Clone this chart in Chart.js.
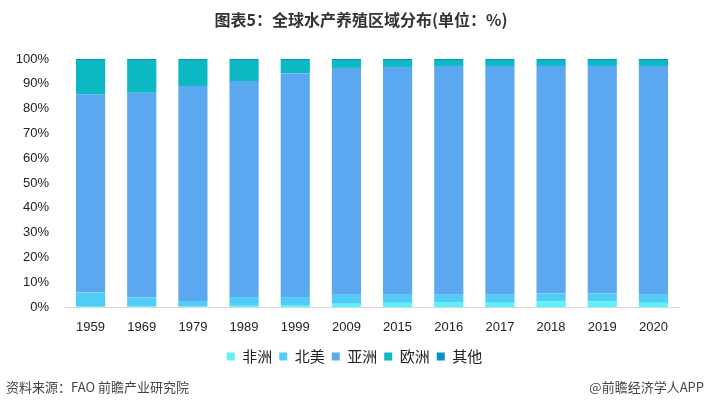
<!DOCTYPE html>
<html>
<head>
<meta charset="utf-8">
<script src="https://cdn.jsdelivr.net/npm/chart.js@4"></script>
<style>
  html, body { margin: 0; padding: 0; background: #fff; }
  #wrap { position: relative; width: 704px; height: 411px; }
</style>
</head>
<body>
<div id="wrap"><canvas id="chart" width="704" height="411"></canvas></div>
<script>
  // years on the x axis
  const years = ["1959", "1969", "1979", "1989", "1999", "2009", "2015", "2016", "2017", "2018", "2019", "2020"];

  // share of global aquaculture by region, %
  const africa = [0.4, 0.3, 0.2, 0.5, 0.8, 1.3, 1.7, 2.0, 1.7, 2.2, 2.2, 1.7];
  const northAmerica = [5.4, 3.5, 2.2, 3.5, 3.2, 3.6, 3.2, 2.9, 3.2, 3.2, 3.2, 3.2];
  const asia = [80.0, 82.6, 86.7, 87.1, 90.3, 91.5, 91.9, 92.3, 92.3, 91.8, 91.8, 92.3];
  const europe = [13.8, 13.2, 10.5, 8.5, 5.3, 3.2, 2.8, 2.4, 2.4, 2.4, 2.4, 2.4];
  const other = [0.4, 0.4, 0.4, 0.4, 0.4, 0.4, 0.4, 0.4, 0.4, 0.4, 0.4, 0.4];

  const seriesNames = ["非洲", "北美", "亚洲", "欧洲", "其他"];
  const seriesColors = ["#5DF1F8", "#4FCCF8", "#5BA8F0", "#0CB8C2", "#0592C8"];
  const seriesData = [africa, northAmerica, asia, europe, other];

  const cjk = '"Noto Sans CJK SC", "Noto Sans", sans-serif';

  // title and source lines, drawn on the canvas
  const textPlugin = {
    id: "texts",
    afterLayout(chart) {
      // legend in the original sits a bit right of centre
      if (chart.legend) {
        chart.legend.left += 15;
        chart.legend.right += 15;
      }
    },
    afterDraw(chart) {
      const c = chart.ctx;
      c.save();
      c.fillStyle = "#333";
      c.textBaseline = "middle";
      c.font = "bold 16px " + cjk;
      c.textAlign = "center";
      c.fillText("图表5：全球水产养殖区域分布(单位：%)", 361, 20);
      c.font = "13px " + cjk;
      c.fillStyle = "#444";
      c.textAlign = "left";
      c.fillText("资料来源：FAO 前瞻产业研究院", 6, 387);
      c.textAlign = "right";
      c.fillText("@前瞻经济学人APP", 704, 387);
      c.restore();
    }
  };

  const ctx = document.getElementById("chart").getContext("2d");
  const chart = new Chart(ctx, {
    type: "bar",
    data: {
      labels: years,
      datasets: seriesData.map((d, i) => ({
        label: seriesNames[i],
        data: d,
        backgroundColor: seriesColors[i],
        borderWidth: 0,
        barPercentage: 0.57,
        categoryPercentage: 1.0
      }))
    },
    options: {
      responsive: false,
      animation: false,
      layout: { padding: { top: 59, left: 0, right: 25, bottom: 37 } },
      scales: {
        x: {
          stacked: true,
          grid: { display: false },
          border: { display: true, color: "#D9D9D9", width: 1 },
          ticks: { color: "#222", font: { size: 13, family: '"Liberation Sans", sans-serif' }, padding: 5 },
          afterFit: (axis) => { axis.height = 35; }
        },
        y: {
          stacked: true,
          min: 0,
          max: 100,
          grid: { display: false },
          border: { display: false },
          ticks: {
            stepSize: 10,
            color: "#222",
            font: { size: 13, family: '"Liberation Sans", sans-serif' },
            padding: 8,
            callback: (v) => v + "%"
          },
          afterFit: (axis) => { axis.width = 65; }
        }
      },
      plugins: {
        legend: {
          position: "bottom",
          labels: {
            boxWidth: 8,
            boxHeight: 8,
            padding: 7,
            color: "#222",
            font: { size: 15, family: cjk }
          }
        },
        tooltip: { enabled: false }
      }
    },
    plugins: [textPlugin]
  });
</script>
</body>
</html>
